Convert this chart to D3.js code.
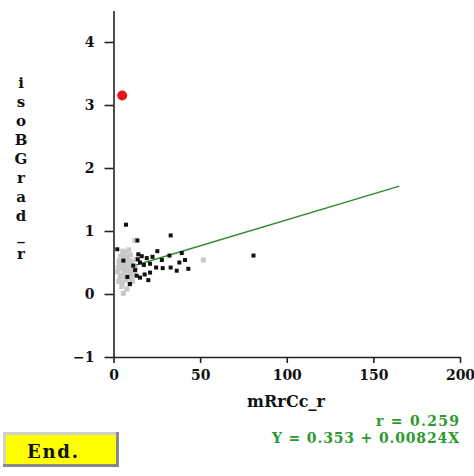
<!DOCTYPE html>
<html>
<head>
<meta charset="utf-8">
<script src="https://cdn.jsdelivr.net/npm/d3@7/dist/d3.min.js"></script>
<style>
  html, body { margin: 0; padding: 0; background: #fff; }
  svg { display: block; }
  text { font-family: "DejaVu Serif", serif; font-weight: bold; }
</style>
</head>
<body>
<svg id="chart" width="474" height="476"></svg>
<script>
// Group 1 (black markers)
const blackX = [7.2, 33, 13.8, 2.2, 25.3, 39.4, 32.3, 14.3, 16.3, 19.2, 27.9, 41.3, 38, 15.3, 21.1, 24.6, 28.4, 33, 36.5, 43.2, 21.1, 13.4, 15.3, 20.1, 9.5, 80.8, 5.7, 11.4, 17.5, 12.5, 18.0, 14.0, 22.5, 8.0];
const blackY = [1.10, 0.93, 0.85, 0.71, 0.68, 0.65, 0.61, 0.63, 0.60, 0.57, 0.54, 0.54, 0.50, 0.50, 0.48, 0.42, 0.41, 0.42, 0.37, 0.40, 0.34, 0.29, 0.26, 0.22, 0.16, 0.61, 0.53, 0.45, 0.46, 0.38, 0.31, 0.55, 0.59, 0.27];
// Group 2 (grey markers)
const grayX = [5.7, 12.4, 51.9, 4.0, 5.0, 6.0, 7.0, 8.0, 9.0, 10.0, 3.5, 4.5, 5.5, 6.5, 7.5, 8.5, 9.5, 10.5, 11.5, 4.2, 6.2, 8.2, 10.2, 12.0, 3.0, 5.2, 7.2, 9.2, 11.0, 6.8, 8.8, 4.8, 2.5, 13.0, 7.8, 9.8,
               3.2, 4.6, 5.9, 7.4, 8.9, 10.8, 12.6, 3.8, 6.4, 9.4, 11.8, 2.8, 5.4, 7.9, 10.4];
const grayY = [0.01, 0.85, 0.54, 0.60, 0.55, 0.62, 0.50, 0.58, 0.47, 0.52, 0.45, 0.40, 0.44, 0.38, 0.42, 0.35, 0.40, 0.33, 0.45, 0.30, 0.28, 0.30, 0.25, 0.35, 0.20, 0.18, 0.22, 0.15, 0.20, 0.66, 0.70, 0.12, 0.35, 0.55, 0.08, 0.62,
               0.52, 0.50, 0.48, 0.56, 0.53, 0.40, 0.42, 0.25, 0.33, 0.28, 0.30, 0.42, 0.68, 0.45, 0.50];
// Highlighted point
const highlightX = [5];
const highlightY = [3.15];
// Fit statistics
const fitR = 0.259;
const fitIntercept = 0.353;
const fitSlope = 0.00824;
const fitRangeX = [2, 165];
// Axis ticks and titles
const xTicks = [0, 50, 100, 150, 200];
const yTicks = [-1, 0, 1, 2, 3, 4];
const xTitle = "mRrCc_r";
const yTitle = ["i", "s", "o", "B", "G", "r", "a", "d", "_", "r"];

const svg = d3.select("#chart");

const x = d3.scaleLinear().domain([0, 200]).range([113.5, 460]);
const y = d3.scaleLinear().domain([-1, 4.5]).range([357, 10.5]);

const axisColor = "#222";

// Y axis
const gy = svg.append("g").attr("transform", `translate(${x(0)},0)`)
  .call(d3.axisLeft(y).tickValues(yTicks).tickSizeInner(9).tickSizeOuter(0).tickPadding(10).tickFormat(d3.format("d")));
// X axis
const gx = svg.append("g").attr("transform", `translate(0,${y(-1)})`)
  .call(d3.axisBottom(x).tickValues(xTicks).tickSizeInner(6).tickSizeOuter(0).tickPadding(7).tickFormat(d3.format("d")));

[gx, gy].forEach(g => {
  g.select(".domain").attr("stroke", axisColor).attr("stroke-width", 1.6);
  g.selectAll(".tick line").attr("stroke", axisColor).attr("stroke-width", 1.6);
  g.selectAll(".tick text").attr("fill", "#111").style("font-size", "14px")
    .style("font-family", "'DejaVu Serif', serif").style("font-weight", "bold");
});

// Axis titles
svg.append("text").attr("x", 286).attr("y", 407).attr("text-anchor", "middle")
  .style("font-size", "16px").attr("fill", "#111")
  .attr("textLength", 78).attr("lengthAdjust", "spacing").text(xTitle);

svg.append("g").selectAll("text").data(yTitle).join("text")
  .attr("x", 21).attr("y", (d, i) => 88 + i * 19.05)
  .attr("text-anchor", "middle").style("font-size", "15px").attr("fill", "#111")
  .text(d => d);

// Regression line (drawn beneath the markers)
svg.append("line")
  .attr("x1", x(fitRangeX[0])).attr("y1", y(fitIntercept + fitSlope * fitRangeX[0]))
  .attr("x2", x(fitRangeX[1])).attr("y2", y(fitIntercept + fitSlope * fitRangeX[1]))
  .attr("stroke", "#2f8a2f").attr("stroke-width", 1.5);

// Grey markers
svg.append("g").selectAll("rect").data(grayX.map((v, i) => [v, grayY[i]])).join("rect")
  .attr("x", d => x(d[0]) - 2.5).attr("y", d => y(d[1]) - 2.5)
  .attr("width", 5).attr("height", 5).attr("fill", "#c8c8c8");

// Black markers
svg.append("g").selectAll("rect").data(blackX.map((v, i) => [v, blackY[i]])).join("rect")
  .attr("x", d => x(d[0]) - 2).attr("y", d => y(d[1]) - 2)
  .attr("width", 4).attr("height", 4).attr("fill", "#111");

// Highlighted point
svg.append("g").selectAll("circle").data(highlightX.map((v, i) => [v, highlightY[i]])).join("circle")
  .attr("cx", d => x(d[0])).attr("cy", d => y(d[1])).attr("r", 5).attr("fill", "#e8141a");

// Fit annotation
const green = "#2a9a2a";
svg.append("text").attr("x", 459).attr("y", 426).attr("text-anchor", "end")
  .style("font-size", "14px").attr("fill", green)
  .attr("textLength", 83).attr("lengthAdjust", "spacing").text(`r = ${fitR}`);
svg.append("text").attr("x", 459).attr("y", 443).attr("text-anchor", "end")
  .style("font-size", "14px").attr("fill", green)
  .attr("textLength", 187).attr("lengthAdjust", "spacing").text(`Y = ${fitIntercept} + ${fitSlope}X`);

// End button
const btn = svg.append("g");
btn.append("rect").attr("x", 3).attr("y", 432).attr("width", 116).attr("height", 35).attr("fill", "#8a8a8a");
btn.append("rect").attr("x", 3).attr("y", 432).attr("width", 113).attr("height", 32).attr("fill", "#d0d0d0");
btn.append("rect").attr("x", 6).attr("y", 435).attr("width", 110).attr("height", 29).attr("fill", "#ffff00");
btn.append("text").attr("x", 27).attr("y", 458).style("font-size", "18px").attr("fill", "#111")
  .attr("textLength", 51).attr("lengthAdjust", "spacing").text("End.");
</script>
</body>
</html>
